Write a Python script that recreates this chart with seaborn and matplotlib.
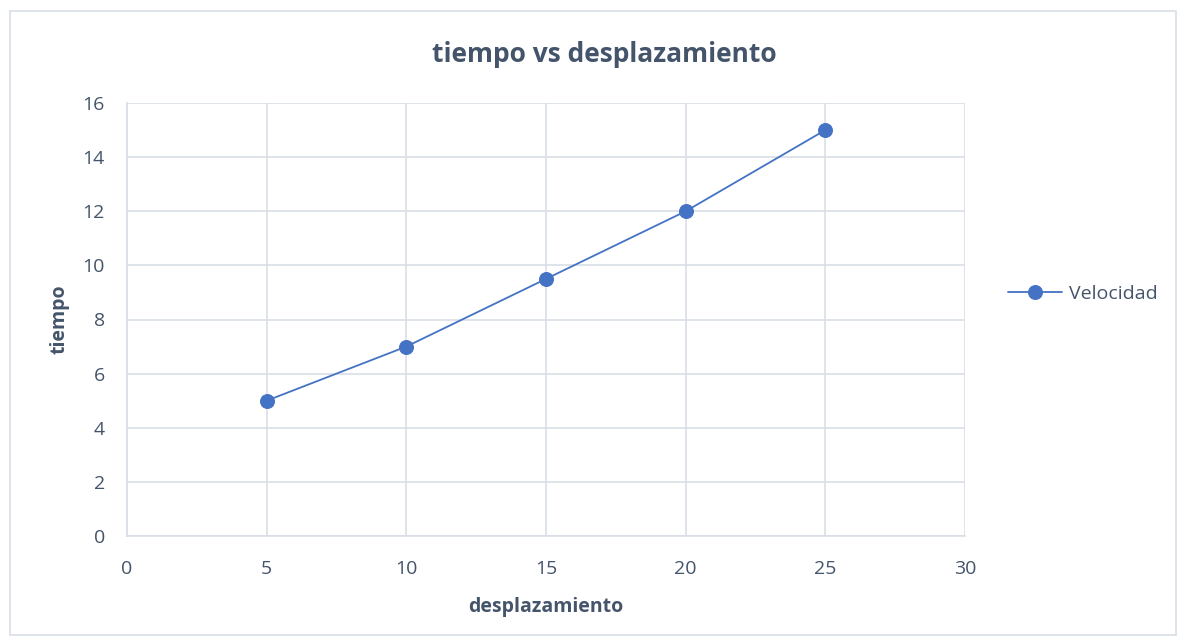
import matplotlib
matplotlib.use("Agg")
import matplotlib.pyplot as plt
import seaborn as sns
import pandas as pd

desplazamiento = [5, 10, 15, 20, 25]
tiempo = [5, 7, 9.5, 12, 15]
series_name = "Velocidad"
x_ticks = [0, 5, 10, 15, 20, 25, 30]
y_ticks = [0, 2, 4, 6, 8, 10, 12, 14, 16]

sns.set_theme(style="white")
plt.rcParams['font.family'] = ['Open Sans', 'DejaVu Sans']

text_color = "#44546A"
line_color = "#4472C4"
grid_color = "#D9DEE6"

df = pd.DataFrame({"desplazamiento": desplazamiento, "tiempo": tiempo, "serie": series_name})

fig = plt.figure(figsize=(11.86, 6.43), dpi=100)
ax = fig.add_axes([127/1186, 1 - 536/643, (965-127)/1186, (536-103)/643])

sns.lineplot(data=df, x="desplazamiento", y="tiempo", hue="serie", palette=[line_color],
             marker="o", markersize=10, markeredgecolor=line_color, linewidth=1.3, ax=ax,
             legend=True, zorder=3)

ax.set_xlim(0, 30)
ax.set_ylim(0, 16)
ax.set_xticks(x_ticks)
ax.set_yticks(y_ticks)
ax.grid(True, color=grid_color, linewidth=1.2)
for s in ["top", "right"]:
    ax.spines[s].set_visible(False)
for s in ["left", "bottom"]:
    ax.spines[s].set_color(grid_color)
    ax.spines[s].set_linewidth(1.2)
ax.tick_params(axis="both", colors=text_color, labelsize=14, length=0)
ax.tick_params(axis="x", pad=17)
ax.tick_params(axis="y", pad=16)

ax.set_xlabel("desplazamiento", fontsize=14, fontweight="bold", color=text_color, labelpad=14)
ax.set_ylabel("tiempo", fontsize=14, fontweight="bold", color=text_color, labelpad=9)
fig.text(604/1186, 1 - 55/643, "tiempo vs desplazamiento", ha="center", va="center",
         fontsize=19, fontweight="bold", color=text_color)

leg = ax.legend(loc="center left", bbox_to_anchor=(1.03, 0.56), frameon=False,
                fontsize=14, handlelength=2.8, handletextpad=0.35)
for t in leg.get_texts():
    t.set_color(text_color)

border = plt.Rectangle((10/1186, 8/643), (1176-10)/1186, (632-8)/643, transform=fig.transFigure,
                       fill=False, edgecolor=grid_color, linewidth=1.2)
fig.add_artist(border)

fig.savefig("out.png", dpi=100)
